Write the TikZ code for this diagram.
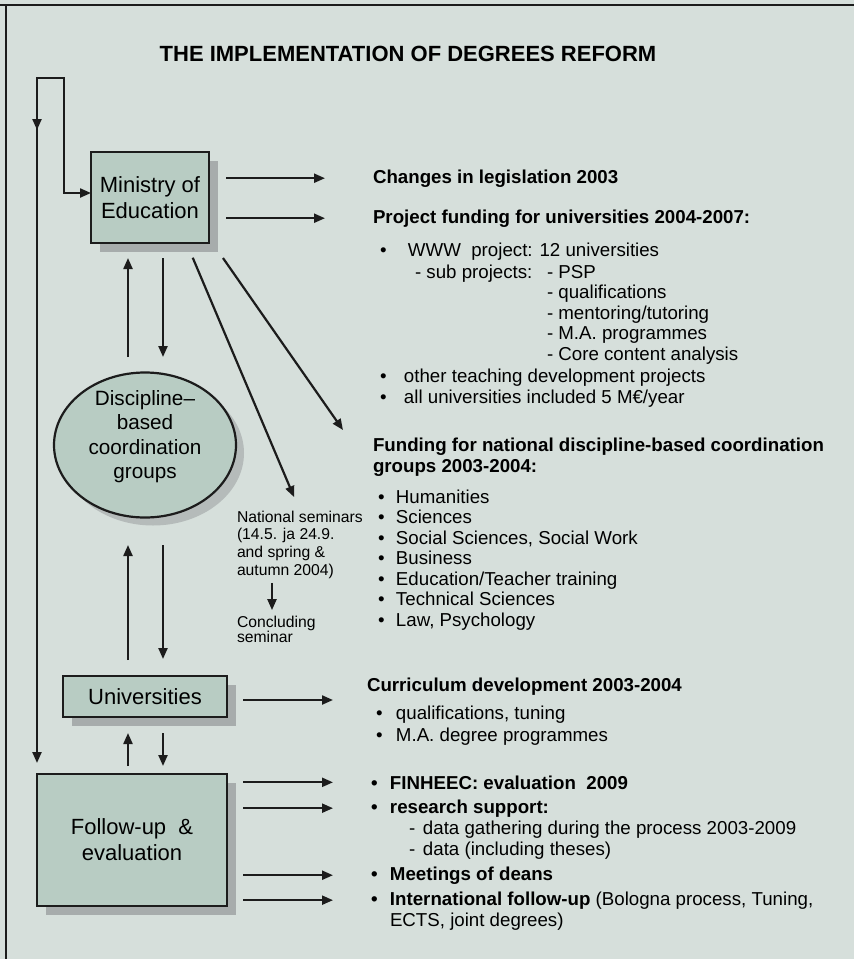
\documentclass[tikz,border=0pt]{standalone}
\usepackage{fontspec}
\setmainfont{Liberation Sans}
\usetikzlibrary{arrows.meta,shapes.geometric,shadows,decorations.markings}

\definecolor{slidebg}{HTML}{D6DFDB}
\definecolor{boxfill}{HTML}{B8CCC3}
\definecolor{shadowgray}{HTML}{A7ACAC}
\definecolor{inkgray}{HTML}{1C1C1C}

\newcommand{\bodysize}{\fontsize{18.7}{20.5}\selectfont}
\newcommand{\smallsize}{\fontsize{15.7}{17.7}\selectfont}
\newcommand{\boxsize}{\fontsize{22}{26}\selectfont}
\newcommand{\blt}[1]{\makebox[#1][l]{\textbullet}}

\tikzset{
  tip/.tip={Triangle[length=11pt,width=9pt]},
  arr/.style={draw=inkgray, line width=2.2pt, -tip},
  unitbox/.style={draw=inkgray, line width=2.2pt, fill=boxfill, inner sep=0pt, outer sep=0pt,
    align=center, font=\boxsize,
    drop shadow={shadow xshift=9pt, shadow yshift=-9pt, fill=shadowgray, opacity=1}},
  txt/.style={anchor=base west, inner sep=0pt, outer sep=0pt, font=\bodysize},
  hd/.style={txt, font=\bodysize\bfseries},
}

\begin{document}
\begin{tikzpicture}[x=1pt, y=-1pt]

\useasboundingbox (0,0) rectangle (854,959);
\fill[slidebg] (0,0) rectangle (854,959);
\draw[inkgray, line width=2.2pt] (0,5) -- (854,5);
\draw[inkgray, line width=2.2pt] (6,5) -- (6,959);

\node[inner sep=0pt, font=\fontsize{22}{26}\selectfont\bfseries] (title) at (408,53.5)
  {THE IMPLEMENTATION OF DEGREES REFORM};

% the four units on the left
\node[unitbox, minimum width=118pt, minimum height=91pt] (ministry) at (150,197.5) {Ministry of\\Education};
\node[ellipse, draw=inkgray, line width=2.2pt, fill=boxfill, minimum width=182pt, minimum height=145pt,
  inner sep=0pt, outer sep=0pt,
  drop shadow={shadow xshift=8pt, shadow yshift=-8pt, fill=shadowgray, opacity=0.7}] (groups) at (145,445) {};
\node[align=center, inner sep=0pt, font=\fontsize{20.7}{24.3}\selectfont] (groupstxt) at (145,436.5)
  {Discipline–\\based\\coordination\\groups};
\node[unitbox, minimum width=164pt, minimum height=41pt] (unis) at (145,696.5) {Universities};
\node[unitbox, minimum width=190pt, minimum height=132pt] (follow) at (132,840) {Follow-up\ \ \&\\evaluation};

% feedback loop
\coordinate (loopL) at (37,78);
\coordinate (loopR) at (64,78);
\draw[draw=inkgray, line width=2.2pt, tip-tip, shorten >=11pt,
  postaction={decorate},
  decoration={markings, mark=at position 221pt with {\arrow{tip}}}]
  ([yshift=4.5pt]ministry.west) -| (loopR) -- (loopL) -- (follow.north -| loopL);

% vertical links
\coordinate (upx) at (128,0);
\coordinate (dnx) at (163,0);
\draw[arr, shorten <=15.5pt, shorten >=15pt] (groups.north -| upx) -- (ministry.south -| upx);
\draw[arr, shorten <=15pt, shorten >=15.5pt] (ministry.south -| dnx) -- (groups.north -| dnx);
\draw[arr, shorten <=16pt, shorten >=27.5pt] (unis.north -| upx) -- (groups.south -| upx);
\draw[arr, shorten <=27.5pt, shorten >=17pt] (groups.south -| dnx) -- (unis.north -| dnx);
\draw[arr, shorten <=8pt, shorten >=16pt] (follow.north -| upx) -- (unis.south -| upx);
\draw[arr, shorten <=16pt, shorten >=8pt] (unis.south -| dnx) -- (follow.north -| dnx);

% ministry outcomes
\node[hd] (changes) at (373,183) {Changes in legislation 2003};
\node[hd] (project) at (373,223) {Project funding for universities 2004-2007:};
\node[txt] (www) at (380,256) {\blt{28pt}WWW\ \ project: 12 universities};
\node[txt] (sub) at (415,278) {- sub projects:};
\foreach \s [count=\k from 0] in {PSP,qualifications,mentoring/tutoring,M.A. programmes,Core content analysis}
  \node[txt] (sub\k) at (547,278+20.5*\k) {- \s};
\node[txt] (other) at (380,382) {\blt{24pt}other teaching development projects};
\node[txt] (allunis) at (380,403) {\blt{24pt}all universities included 5 M€/year};

\node[hd] (fund) at (373,451) {Funding for national discipline-based coordination};
\node[hd] (fundb) at (373,472) {groups 2003-2004:};
\foreach \d [count=\k from 0] in {Humanities,Sciences,{Social Sciences, Social Work},Business,
    Education/Teacher training,Technical Sciences,{Law, Psychology}}
  \node[txt] (disc\k) at (378,503+20.5*\k) {\blt{18pt}\d};

% seminars
\node[txt, font=\smallsize] (sem0) at (237,522) {National seminars};
\node[txt, font=\smallsize] (sem1) at (237,539.7) {(14.5. ja 24.9.};
\node[txt, font=\smallsize] (sem2) at (237,557.4) {and spring \&};
\node[txt, font=\smallsize] (sem3) at (237,575.1) {autumn 2004)};
\node[txt, font=\smallsize] (conc0) at (237,627) {Concluding};
\node[txt, font=\smallsize] (conc1) at (237,642) {seminar};
\coordinate (sx) at (272,0);
\draw[arr, shorten <=4.6pt, shorten >=5.5pt] (sem3.south -| sx) -- (conc0.north -| sx);

\foreach \t in {changes,project}
  \draw[arr, shorten <=17pt, shorten >=48pt] (ministry.east |- \t.west) -- (\t.west);
\coordinate (d1) at (186.5,0);
\coordinate (d2) at (212.5,0);
\coordinate (fundtip) at (343,430);
\draw[arr, shorten <=16pt, shorten >=14.7pt] (ministry.south -| d1) -- (sem0.north);
\draw[arr, shorten <=18.3pt] (ministry.south -| d2) -- (fundtip);

% universities outcomes
\node[hd] (curric) at (367,691) {Curriculum development 2003-2004};
\node[txt] (qual) at (376,719) {\blt{20pt}qualifications, tuning};
\node[txt] (madeg) at (376,741) {\blt{20pt}M.A. degree programmes};
\draw[arr, shorten <=16pt, shorten >=34pt] ([yshift=-3.5pt]unis.east) -- ([yshift=-3.5pt]unis.east -| curric.west);

% follow-up outcomes
\node[hd] (finheec) at (371,789) {\blt{19pt}FINHEEC: evaluation\ \ 2009};
\node[hd] (research) at (371,813) {\blt{19pt}research support:};
\node[txt] (data0) at (409,834) {\makebox[14pt][l]{-}data gathering during the process 2003-2009};
\node[txt] (data1) at (409,855) {\makebox[14pt][l]{-}data (including theses)};
\node[hd] (deans) at (371,880) {\blt{19pt}Meetings of deans};
\node[hd] (intl) at (371,905) {\blt{19pt}International follow-up \mdseries(Bologna process, Tuning,};
\node[txt] (intlb) at (390,926) {ECTS, joint degrees)};
\foreach \t in {finheec,research,deans,intl}
  \draw[arr, shorten <=16pt, shorten >=38pt] (follow.east |- \t.west) -- (\t.west);

\end{tikzpicture}
\end{document}
